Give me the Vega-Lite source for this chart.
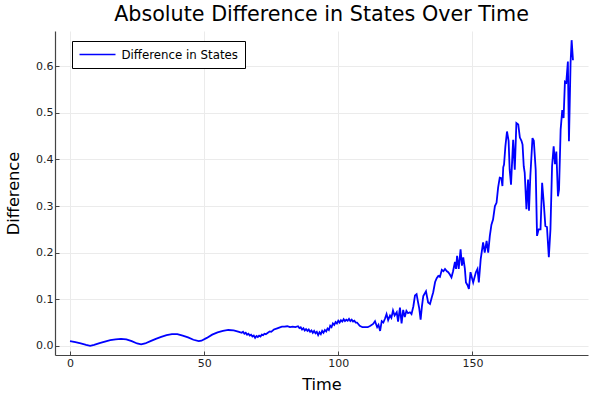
{
  "$schema": "https://vega.github.io/schema/vega-lite/v6.json",
  "width": 533,
  "height": 324,
  "autosize": {"type": "none"},
  "padding": {"left": 55, "top": 31, "right": 12, "bottom": 45},
  "title": {"text": "Absolute Difference in States Over Time", "font": "DejaVu Sans", "fontSize": 20.7, "fontWeight": "normal", "color": "#000000", "anchor": "middle", "offset": 5},
  "config": {
    "view": {"stroke": null},
    "font": "DejaVu Sans",
    "axis": {"labelFont": "DejaVu Sans", "labelFontSize": 11, "labelColor": "#222222", "titleFont": "DejaVu Sans", "titleFontSize": 16.2, "titleFontWeight": "normal", "titleColor": "#000000", "domainColor": "#444444", "domainWidth": 1.2, "tickColor": "#444444", "tickSize": -4, "gridColor": "#ebebeb", "gridWidth": 1}
  },
  "data": {"values": [
    {"t":0,"v":0.010},{"t":2,"v":0.008},{"t":4,"v":0.005},{"t":6,"v":0.002},{"t":7.5,"v":0.000},{"t":9,"v":0.002},{"t":11,"v":0.006},{"t":13,"v":0.009},{"t":15,"v":0.012},{"t":17,"v":0.014},{"t":19,"v":0.015},{"t":21,"v":0.014},{"t":23,"v":0.010},{"t":25,"v":0.005},{"t":26.5,"v":0.003},{"t":28,"v":0.005},{"t":30,"v":0.010},{"t":32,"v":0.015},{"t":34,"v":0.019},{"t":36,"v":0.023},{"t":38,"v":0.025},{"t":40,"v":0.025},{"t":42,"v":0.022},{"t":44,"v":0.018},{"t":46,"v":0.013},{"t":48,"v":0.010},{"t":49,"v":0.011},{"t":51,"v":0.017},{"t":53,"v":0.024},{"t":55,"v":0.029},{"t":57,"v":0.032},{"t":59,"v":0.034},{"t":61,"v":0.033},{"t":63,"v":0.030},
    {"t":64,"v":0.028},{"t":64.5,"v":0.030},{"t":65,"v":0.026},{"t":65.5,"v":0.028},{"t":66,"v":0.024},{"t":66.5,"v":0.026},{"t":67,"v":0.022},{"t":67.5,"v":0.024},{"t":68,"v":0.020},{"t":68.5,"v":0.022},{"t":69,"v":0.017},{"t":69.5,"v":0.021},{"t":70,"v":0.019},{"t":70.5,"v":0.022},{"t":71,"v":0.020},{"t":71.5,"v":0.024},{"t":72,"v":0.023},{"t":72.5,"v":0.026},{"t":73,"v":0.025},{"t":74,"v":0.029},{"t":74.5,"v":0.031},{"t":75,"v":0.030},{"t":76,"v":0.035},{"t":77,"v":0.037},{"t":78,"v":0.039},{"t":79,"v":0.041},{"t":80,"v":0.041},{"t":81,"v":0.042},{"t":82,"v":0.040},{"t":83,"v":0.041},{"t":84,"v":0.040},{"t":85,"v":0.042},{"t":85.5,"v":0.038},{"t":86,"v":0.040},{"t":86.5,"v":0.035},{"t":87,"v":0.038},{"t":87.5,"v":0.033},{"t":88,"v":0.036},{"t":88.5,"v":0.032},{"t":89,"v":0.035},{"t":89.5,"v":0.030},{"t":90,"v":0.033},{"t":90.5,"v":0.028},{"t":91,"v":0.032},{"t":91.5,"v":0.027},{"t":92,"v":0.030},{"t":92.5,"v":0.023},{"t":93,"v":0.029},{"t":93.5,"v":0.025},{"t":94,"v":0.032},{"t":94.5,"v":0.028},{"t":95,"v":0.034},{"t":95.5,"v":0.031},{"t":96,"v":0.037},{"t":96.5,"v":0.034},{"t":97,"v":0.043},{"t":97.5,"v":0.040},{"t":98,"v":0.048},{"t":98.5,"v":0.045},{"t":99,"v":0.051},{"t":99.5,"v":0.048},{"t":100,"v":0.054},{"t":100.5,"v":0.050},{"t":101,"v":0.055},{"t":101.5,"v":0.052},{"t":102,"v":0.057},{"t":102.5,"v":0.053},{"t":103,"v":0.056},{"t":103.5,"v":0.054},{"t":104,"v":0.058},{"t":104.5,"v":0.053},{"t":105,"v":0.056},{"t":105.5,"v":0.052},{"t":106,"v":0.054},{"t":106.5,"v":0.050},{"t":107,"v":0.050},{"t":108,"v":0.043},{"t":109,"v":0.040},{"t":110,"v":0.040},{"t":111,"v":0.040},{"t":112,"v":0.043},{"t":113,"v":0.047},{"t":113.7,"v":0.053},{"t":114.5,"v":0.040},{"t":115,"v":0.045},{"t":115.6,"v":0.032},{"t":116.2,"v":0.053},{"t":116.8,"v":0.050},{"t":117.4,"v":0.058},{"t":118,"v":0.068},{"t":118.6,"v":0.055},{"t":119.3,"v":0.065},{"t":119.8,"v":0.060},{"t":120.4,"v":0.076},{"t":121,"v":0.065},{"t":121.8,"v":0.072},{"t":122.3,"v":0.052},{"t":123,"v":0.082},{"t":123.6,"v":0.048},{"t":124.2,"v":0.077},{"t":124.8,"v":0.062},{"t":125.4,"v":0.075},{"t":126,"v":0.070},{"t":126.7,"v":0.072},{"t":127.3,"v":0.068},{"t":128,"v":0.085},{"t":128.6,"v":0.108},{"t":129.2,"v":0.111},{"t":129.7,"v":0.095},{"t":130.2,"v":0.080},{"t":130.7,"v":0.056},{"t":131.2,"v":0.085},{"t":131.7,"v":0.107},{"t":132.7,"v":0.117},{"t":133.5,"v":0.093},{"t":134.2,"v":0.090},{"t":134.9,"v":0.105},{"t":135.4,"v":0.115},{"t":136.1,"v":0.137},{"t":136.7,"v":0.145},{"t":137.3,"v":0.150},{"t":137.9,"v":0.148},{"t":138.6,"v":0.163},{"t":139.2,"v":0.160},{"t":139.8,"v":0.165},{"t":140.5,"v":0.160},{"t":141,"v":0.158},{"t":141.6,"v":0.153},{"t":142.2,"v":0.147},{"t":142.8,"v":0.160},{"t":143.5,"v":0.180},{"t":143.9,"v":0.165},{"t":144.3,"v":0.193},{"t":144.9,"v":0.165},{"t":145.6,"v":0.207},{"t":146.1,"v":0.172},{"t":146.6,"v":0.190},{"t":147.2,"v":0.165},{"t":147.6,"v":0.136},{"t":148.2,"v":0.130},{"t":148.7,"v":0.122},{"t":149.3,"v":0.158},{"t":150.3,"v":0.136},{"t":151.3,"v":0.158},{"t":151.9,"v":0.165},{"t":152.4,"v":0.136},{"t":153.1,"v":0.186},{"t":154,"v":0.222},{"t":154.6,"v":0.200},{"t":155.3,"v":0.225},{"t":155.9,"v":0.200},{"t":156.5,"v":0.236},{"t":157.1,"v":0.260},{"t":157.7,"v":0.271},{"t":158.4,"v":0.300},{"t":159,"v":0.307},{"t":159.6,"v":0.340},{"t":160.2,"v":0.361},{"t":160.8,"v":0.360},{"t":161.2,"v":0.343},{"t":161.5,"v":0.383},{"t":161.8,"v":0.389},{"t":162.3,"v":0.428},{"t":162.9,"v":0.460},{"t":163.5,"v":0.440},{"t":163.9,"v":0.378},{"t":164.4,"v":0.346},{"t":165.2,"v":0.442},{"t":165.8,"v":0.378},{"t":166.4,"v":0.478},{"t":167.1,"v":0.475},{"t":167.7,"v":0.447},{"t":168.3,"v":0.440},{"t":168.7,"v":0.432},{"t":169.15,"v":0.385},{"t":169.5,"v":0.372},{"t":170.15,"v":0.293},{"t":170.75,"v":0.357},{"t":171.1,"v":0.290},{"t":171.6,"v":0.364},{"t":172.4,"v":0.446},{"t":172.9,"v":0.440},{"t":173.6,"v":0.378},{"t":174.1,"v":0.236},{"t":174.7,"v":0.250},{"t":175.4,"v":0.250},{"t":176.0,"v":0.350},{"t":176.6,"v":0.307},{"t":177.2,"v":0.257},{"t":177.8,"v":0.255},{"t":178.5,"v":0.190},{"t":179.1,"v":0.250},{"t":179.7,"v":0.385},{"t":180.3,"v":0.428},{"t":180.8,"v":0.390},{"t":181.3,"v":0.417},{"t":181.9,"v":0.321},{"t":182.3,"v":0.335},{"t":182.9,"v":0.464},{"t":183.5,"v":0.506},{"t":184.0,"v":0.489},{"t":184.5,"v":0.567},{"t":185.0,"v":0.565},{"t":185.6,"v":0.610},{"t":186.0,"v":0.439},{"t":186.6,"v":0.607},{"t":187.0,"v":0.656},{"t":187.5,"v":0.613}
  ]},
  "mark": {"type": "line", "strokeWidth": 1.8, "clip": true},
  "encoding": {
    "x": {"field": "t", "type": "quantitative", "title": "Time", "scale": {"domain": [-5.6, 193.1], "nice": false, "zero": false}, "axis": {"values": [0, 50, 100, 150], "labelPadding": 6, "titlePadding": 8}},
    "y": {"field": "v", "type": "quantitative", "title": "Difference", "scale": {"domain": [-0.0197, 0.6757], "nice": false, "zero": false}, "axis": {"values": [0, 0.1, 0.2, 0.3, 0.4, 0.5, 0.6], "format": ".1f", "labelPadding": 6, "titlePadding": 14}},
    "color": {"datum": "Difference in States", "type": "nominal", "scale": {"range": ["#0000ff"]}, "legend": {"title": null, "orient": "none", "legendX": 17, "legendY": 10, "symbolType": "M-1,0L5,0", "symbolSize": 144, "symbolStrokeWidth": 1.6, "labelOffset": 29, "labelFont": "DejaVu Sans", "labelFontSize": 11.8, "labelColor": "#000000", "strokeColor": "#000000", "fillColor": "#ffffff", "padding": 6.5, "cornerRadius": 0}}
  }
}
